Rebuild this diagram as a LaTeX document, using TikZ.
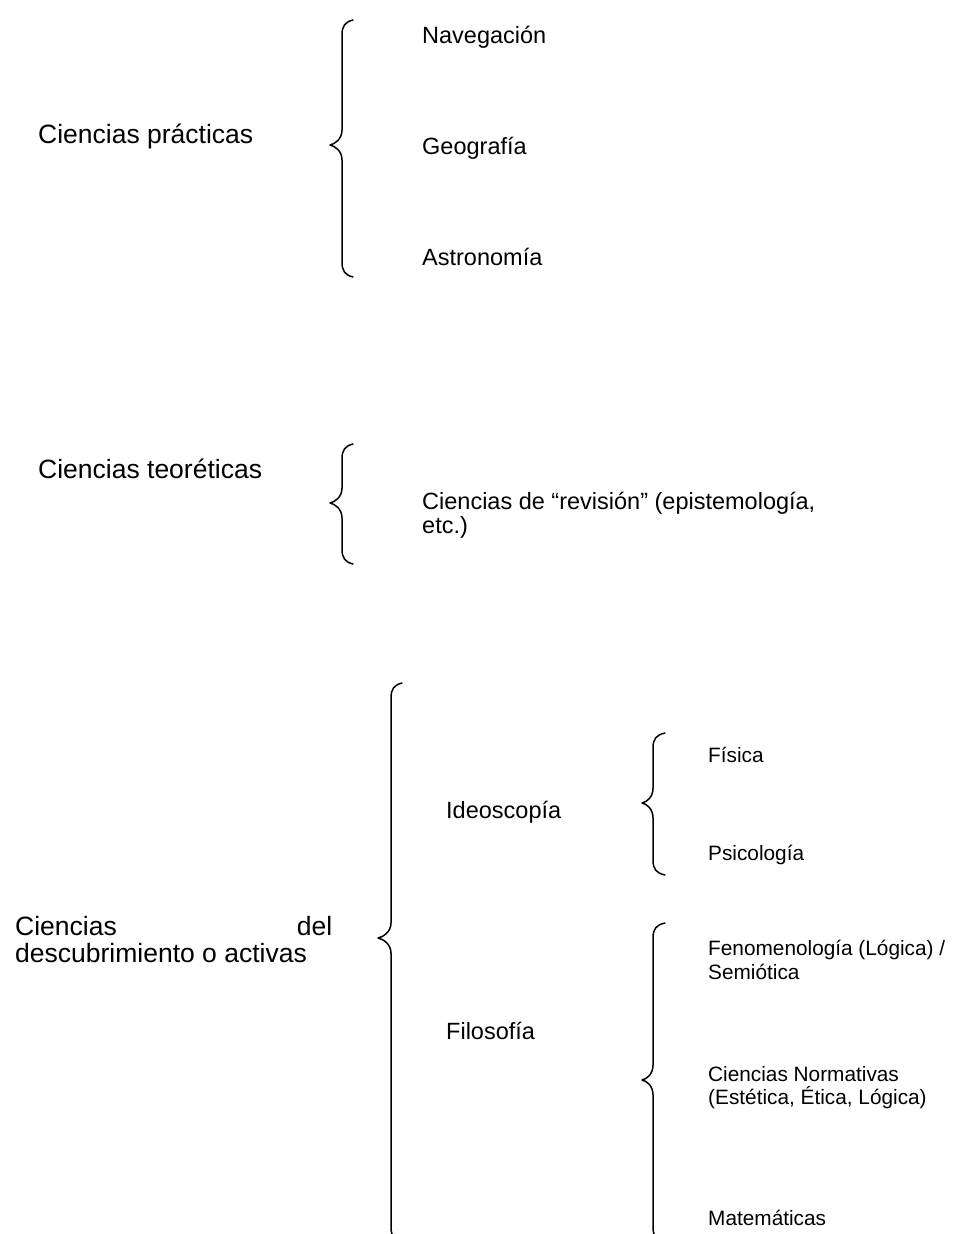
\documentclass[tikz,border=0pt]{standalone}
\usepackage{fontspec}
\setmainfont{Liberation Sans}
\tikzset{
  brace/.style={line width=1.5pt, line cap=round, line join=round},
  lone/.style={anchor=base west, inner sep=0pt, font=\fontsize{26.5}{27}\selectfont},
  ltwo/.style={anchor=base west, inner sep=0pt, font=\fontsize{23.5}{24}\selectfont},
  lthree/.style={anchor=base west, inner sep=0pt, font=\fontsize{20.8}{23}\selectfont},
}
% #1 hook x, #2 line x, #3 tip x, #4 top y, #5 tip y, #6 bottom y
\newcommand{\Llave}[6]{%
  \draw[brace] (#1,#4) .. controls ({#2+3},{#4+2}) and (#2,{#4+6}) .. (#2,{#4+15})
    -- (#2,{#5-15}) .. controls (#2,{#5-6}) and ({#3+5},{#5-1}) .. (#3,#5)
    .. controls ({#3+5},{#5+1}) and (#2,{#5+6}) .. (#2,{#5+15})
    -- (#2,{#6-15}) .. controls (#2,{#6-6}) and ({#2+3},{#6-2}) .. (#1,#6);}
\begin{document}
\begin{tikzpicture}[x=1pt,y=-1pt]
\useasboundingbox[fill=white] (0,0) rectangle (960,1234);

% Ciencias prácticas
\node[lone] (cp) at (38,143) {Ciencias prácticas};
\Llave{353}{342}{330}{20}{145}{277}
\node[ltwo] (nav) at (422,43) {Navegación};
\node[ltwo] (geo) at (422,154) {Geografía};
\node[ltwo] (ast) at (422,265) {Astronomía};

% Ciencias teoréticas
\node[lone] (ct) at (38,478) {Ciencias teoréticas};
\Llave{353}{342}{330}{444}{503}{564}
\node[ltwo] (rev) at (422,509) {\vtop{\baselineskip=24.5pt\hbox{Ciencias de “revisión” (epistemología,}\hbox{etc.)}}};

% Ciencias del descubrimiento
\node[lone] (cd) at (15,935) {\vtop{\baselineskip=27pt\hbox to 317pt{Ciencias\hfill del}\hbox{descubrimiento o activas}}};
\Llave{402}{391}{378}{683}{938}{1242}
\node[ltwo] (ideo) at (446,818) {Ideoscopía};
\node[ltwo] (filo) at (446,1039) {Filosofía};

\Llave{665}{653}{642}{733}{803}{875}
\node[lthree] (fis) at (708,762) {Física};
\node[lthree] (psi) at (708,860) {Psicología};

\Llave{665}{653}{642}{923}{1080}{1242}
\node[lthree] (fen) at (708,955) {\vtop{\baselineskip=24.5pt\hbox{Fenomenología (Lógica) /}\hbox{Semiótica}}};
\node[lthree] (norm) at (708,1081) {\vtop{\baselineskip=23.5pt\hbox{Ciencias Normativas}\hbox{(Estética, Ética, Lógica)}}};
\node[lthree] (mat) at (708,1225) {Matemáticas};
\end{tikzpicture}
\end{document}
